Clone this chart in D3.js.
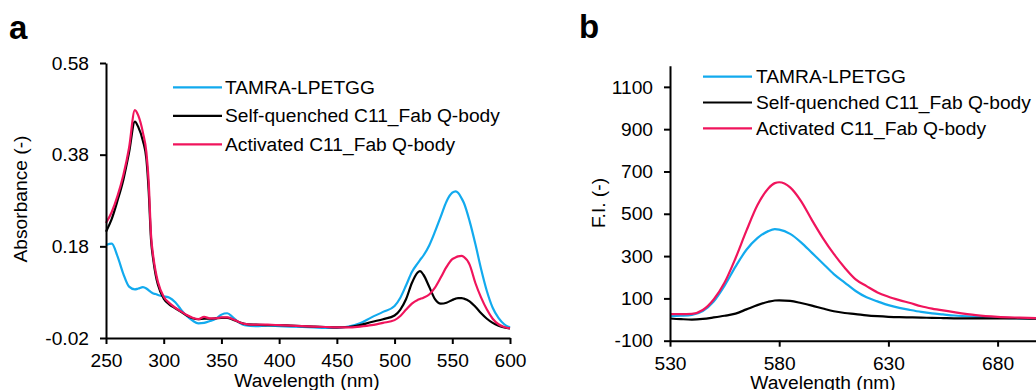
<!DOCTYPE html>
<html>
<head>
<meta charset="utf-8">
<script src="https://cdn.jsdelivr.net/npm/d3@7/dist/d3.min.js"></script>
<style>
  html, body { margin: 0; padding: 0; background: #fff; }
  svg { display: block; font-family: "Liberation Sans", Arial, Helvetica, sans-serif; }
  .axis path, .axis line { stroke: #000; stroke-width: 2; }
  .axis text { font-size: 19.2px; fill: #000; font-family: "Liberation Sans", Arial, Helvetica, sans-serif; }
</style>
</head>
<body>
<svg id="chart" width="1036" height="390"></svg>
<script>
// Series names and colours
const seriesNames = ["TAMRA-LPETGG", "Self-quenched C11_Fab Q-body", "Activated C11_Fab Q-body"];
const seriesColors = ["#12aaee", "#000000", "#f0145c"];

// Panel a: absorbance spectra
const absWavelength = [250,255,260,265,270,275,278,282,285,287,289,291,293,295,300,305,310,315,320,325,330,
  335,340,345,350,355,360,365,370,380,390,400,410,420,430,440,450,460,470,480,490,500,
  505,510,515,520,522,525,530,535,540,545,550,553,555,558,560,565,570,575,580,585,590,595,600];
const absTamra = [.183,.186,.158,.120,.092,.086,.088,.091,.088,.084,.080,.077,.076,.074,.071,.068,.058,.042,.028,.018,.012,
  .013,.017,.022,.031,.034,.025,.014,.008,.006,.007,.006,.005,.004,.003,.002,.002,.005,.012,.025,.037,.050,
  .068,.095,.124,.143,.150,.160,.182,.212,.245,.278,.297,.300,.297,.285,.275,.235,.185,.130,.082,.046,.024,.010,.003];
const absQuenched = [.212,.240,.280,.325,.385,.452,.440,.410,.370,.300,.195,.150,.118,.096,.066,.053,.045,.037,.029,.023,.021,
  .022,.022,.023,.024,.024,.020,.015,.011,.009,.008,.008,.007,.006,.005,.004,.003,.004,.008,.015,.021,.029,
  .042,.065,.100,.123,.126,.118,.092,.065,.055,.057,.063,.066,.067,.067,.066,.060,.048,.034,.022,.013,.007,.003,.001];
const absActivated = [.231,.255,.290,.335,.395,.477,.465,.428,.385,.320,.205,.157,.125,.102,.070,.056,.046,.038,.030,.024,.021,
  .026,.023,.023,.025,.025,.021,.015,.011,.009,.009,.008,.007,.006,.005,.004,.003,.003,.005,.008,.013,.019,
  .028,.042,.055,.063,.065,.068,.075,.090,.112,.135,.152,.156,.158,.159,.157,.140,.100,.068,.042,.022,.010,.004,.001];
const absTicks = [-0.02, 0.18, 0.38, 0.58];
const absWlTicks = [250,300,350,400,450,500,550,600];

// Panel b: fluorescence emission spectra
const flWavelength = [530,535,540,545,550,555,560,565,570,575,578,580,585,590,595,600,605,610,615,620,625,630,635,640,645,650,655,660,670,680,690,700,710,720,730];
const flTamra = [16,18,22,40,85,160,250,330,385,418,427,425,405,365,315,265,215,175,135,105,86,68,55,45,36,29,24,19,13,9,6,5,4,3,3];
const flQuenched = [5,2,0,3,10,18,28,48,68,84,90,91,88,78,66,52,39,31,26,20,16,13,11,10,9,8,7,6,6,5,5,4,4,3,3];
const flActivated = [26,26,27,45,95,175,290,420,540,620,645,649,625,560,470,385,310,245,190,158,128,108,92,78,63,52,43,35,21,13,9,6,5,4,3];
const flTicks = [-100, 100, 300, 500, 700, 900, 1100];
const flWlTicks = [530, 580, 630, 680, 730];

const svg = d3.select("#chart");
const FONT = 19.2;

// Tick formatters that use a plain hyphen for negative numbers
const hyphen = f => v => f(v).replace("\u2212", "-");

function drawPanel(cfg) {
  const g = svg.append("g");
  const x = d3.scaleLinear().domain(cfg.xDomain).range(cfg.xRange);
  const y = d3.scaleLinear().domain(cfg.yDomain).range(cfg.yRange);

  // Spectra
  const line = d3.line().x(d => x(d[0])).y(d => y(d[1])).curve(d3.curveMonotoneX);
  cfg.series.forEach((vals, i) => {
    const pts = cfg.wl.map((w, k) => [w, vals[k]]);
    g.append("path").datum(pts)
      .attr("fill", "none")
      .attr("stroke", seriesColors[i])
      .attr("stroke-width", 2.2)
      .attr("stroke-linejoin", "round")
      .attr("d", line);
  });

  // Axes
  g.append("g").attr("class", "axis")
    .attr("transform", `translate(0,${cfg.yRange[0]})`)
    .call(d3.axisBottom(x).tickValues(cfg.xTicks).tickSize(6).tickSizeOuter(0).tickPadding(9.5).tickFormat(d3.format("d")));
  g.append("g").attr("class", "axis")
    .attr("transform", `translate(${cfg.xRange[0]},0)`)
    .call(d3.axisLeft(y).tickValues(cfg.yTicks).tickSize(6).tickSizeOuter(0).tickPadding(11).tickFormat(cfg.yFormat));

  // Axis titles
  g.append("text")
    .attr("x", cfg.xLabelPos[0]).attr("y", cfg.xLabelPos[1])
    .attr("text-anchor", "middle").attr("font-size", FONT)
    .text("Wavelength (nm)");
  g.append("text")
    .attr("transform", `translate(${cfg.yLabelPos[0]},${cfg.yLabelPos[1]}) rotate(-90)`)
    .attr("text-anchor", "middle").attr("font-size", FONT)
    .text(cfg.yLabel);

  // Legend
  const lg = g.append("g");
  seriesNames.forEach((name, i) => {
    const yy = cfg.legend.y0 + i * cfg.legend.dy;
    lg.append("line")
      .attr("x1", cfg.legend.x1).attr("x2", cfg.legend.x2)
      .attr("y1", yy).attr("y2", yy)
      .attr("stroke", seriesColors[i]).attr("stroke-width", 2.2);
    lg.append("text")
      .attr("x", cfg.legend.tx).attr("y", yy + 6.5)
      .attr("font-size", FONT)
      .text(name);
  });

  // Panel letter
  g.append("text")
    .attr("x", cfg.letterPos[0]).attr("y", cfg.letterPos[1])
    .attr("font-size", 33).attr("font-weight", "bold")
    .text(cfg.letter);
}

drawPanel({
  wl: absWavelength,
  series: [absTamra, absQuenched, absActivated],
  xDomain: [250, 600], xRange: [106, 510],
  yDomain: [-0.02, 0.58], yRange: [338, 63],
  xTicks: absWlTicks, yTicks: absTicks,
  yFormat: hyphen(d3.format(".2f")),
  xLabelPos: [307, 387], yLabelPos: [27, 199],
  yLabel: "Absorbance (-)",
  legend: { x1: 173, x2: 222, tx: 225, y0: 87.3, dy: 28.5 },
  letter: "a", letterPos: [9, 39]
});

drawPanel({
  wl: flWavelength,
  series: [flTamra, flQuenched, flActivated],
  xDomain: [530, 730], xRange: [670, 1106.8],
  yDomain: [-100, 1200], yRange: [340.7, 65.7],
  xTicks: flWlTicks, yTicks: flTicks,
  yFormat: hyphen(d3.format("d")),
  xLabelPos: [823, 389], yLabelPos: [605, 203],
  yLabel: "F.I. (-)",
  legend: { x1: 703, x2: 752, tx: 756, y0: 76.7, dy: 25.8 },
  letter: "b", letterPos: [579, 38]
});
</script>
</body>
</html>
